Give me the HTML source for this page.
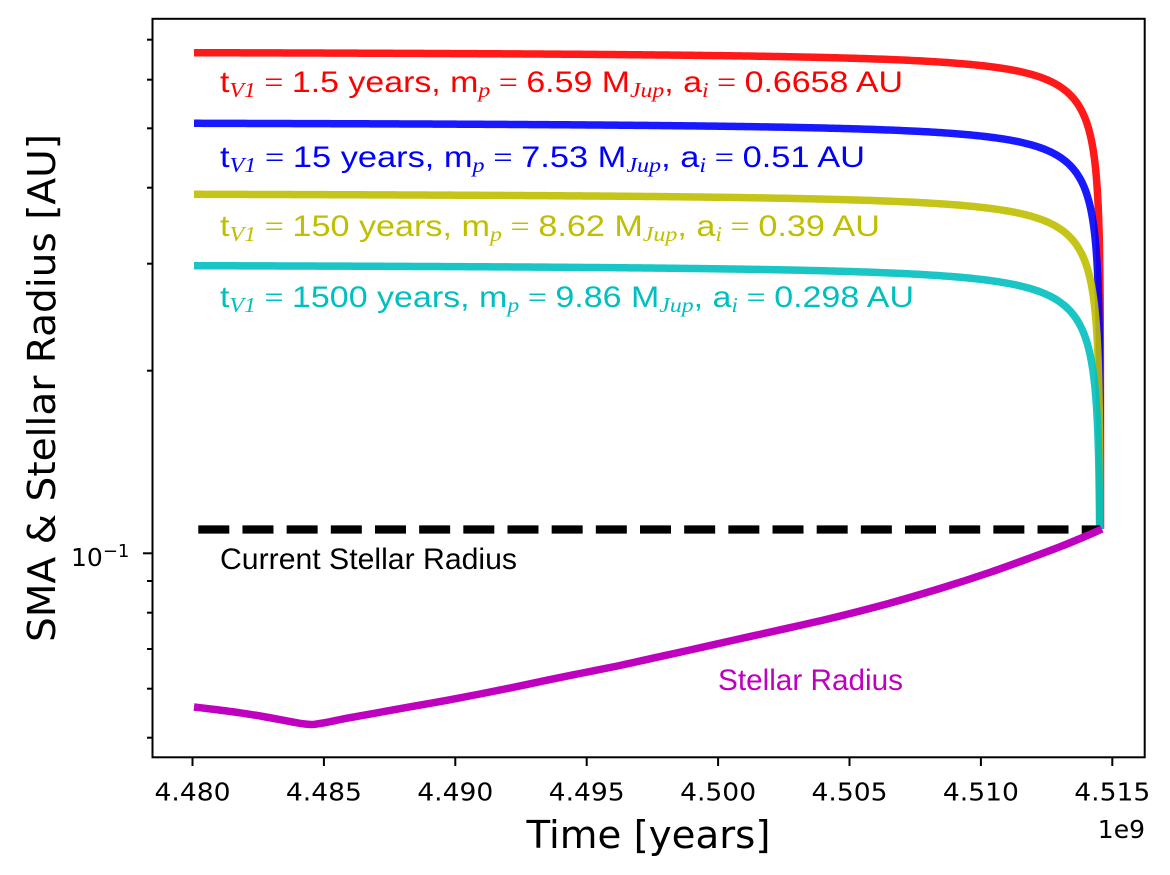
<!DOCTYPE html>
<html>
<head>
<meta charset="utf-8">
<style>
  html,body{margin:0;padding:0;background:#fff;}
  svg{display:block;}
  .tk{font-family:"DejaVu Sans","Liberation Sans",sans-serif;font-size:25px;fill:#000;}
  .lab{font-family:"DejaVu Sans","Liberation Sans",sans-serif;font-size:38px;fill:#000;}
  .ann{font-family:"Liberation Sans","DejaVu Sans",sans-serif;font-size:30px;}
  .m{font-family:"Liberation Serif","DejaVu Serif",serif;font-style:italic;font-size:21px;}
  .eq{font-family:"Liberation Serif","DejaVu Serif",serif;}
</style>
</head>
<body>
<svg width="1170" height="875" viewBox="0 0 1170 875" xmlns="http://www.w3.org/2000/svg">
  <rect x="0" y="0" width="1170" height="875" fill="#fff"/>

  <!-- SMA curves (fallback polylines, replaced by script) -->
  <g fill="none" stroke-width="7.5" stroke-linejoin="round" stroke-linecap="butt" stroke-opacity="0.9">
    <polyline id="cr" data-y0="52.7" data-a="54.6" data-xe="1100.5" stroke="#ff0000" points="194,52.7 500,53.9 700,55.2 800,56.7 900,58.7 950,61.7 1000,67.2 1025,73.7 1040,80.7 1055,88.7 1065,96.7 1075,106.7 1082,116.7 1088,130.7 1092,147.7 1095,166.7 1097,190.7 1098,212.7 1099,252.7 1099.8,302.7 1100.5,529"/>
    <polyline id="cb" data-y0="123.3" data-a="54" data-xe="1100" stroke="#0000ff" points="194,123.3 500,124.5 700,125.8 800,127.3 900,129.3 950,132.3 1000,137.8 1025,144.3 1040,151.3 1055,159.3 1065,167.3 1075,177.3 1082,187.3 1088,201.3 1092,218.3 1095,237.3 1097,261.3 1098,283.3 1099,323.3 1099.5,373.3 1100,529"/>
    <polyline id="cy" data-y0="194.3" data-a="55" data-xe="1100" stroke="#bfbf00" points="194,194.3 500,195.5 700,196.8 800,198.3 900,200.3 950,203.3 1000,208.8 1025,215.3 1040,222.3 1055,230.3 1065,238.3 1075,248.3 1082,258.3 1088,272.3 1092,289.3 1095,308.3 1097,332.3 1098,354.3 1099,394.3 1099.5,444.3 1100,529"/>
    <polyline id="cc" data-y0="265.7" data-a="58" data-xe="1100" stroke="#00bfbf" points="194,265.7 500,266.9 700,268.2 800,269.7 900,271.7 950,274.7 1000,280.2 1025,287.7 1040,295.7 1055,303.7 1065,312.7 1075,322.7 1082,333.7 1088,348.7 1092,365.7 1095,386.7 1097,412.7 1098,437.7 1099,475.7 1099.5,515.7 1100,529"/>
  </g>

  <!-- Current stellar radius dashed line -->
  <line x1="198.3" y1="529.5" x2="1100" y2="529.5" stroke="#000" stroke-width="8.3" stroke-dasharray="31 13.17"/>

  <!-- Stellar radius curve -->
  <polyline id="cm" fill="none" stroke="#bf00bf" stroke-width="7.5" stroke-linejoin="round" points="194,707 215,709.5 240,712.8 263,716.5 290,721.5 305,724 312,724.5 320,723.5 347,718.2 380,712.3 413,706.3 447,700.3 480,694 514,687.2 547,680.2 580,673.5 615,666.5 650,658.8 690,650 730,641 775,631 830,618.5 883,605 940,588.5 991,572 1030,558 1062,546 1085,536.5 1102,529"/>

  <!-- Annotations -->
  <text class="ann" x="220" y="92" fill="#ff0000" textLength="683" lengthAdjust="spacingAndGlyphs">t<tspan class="m" dy="5">V1</tspan><tspan class="eq" dy="-5"> = </tspan>1.5 years, m<tspan class="m" dy="5">p</tspan><tspan class="eq" dy="-5"> = </tspan>6.59 M<tspan class="m" dy="5">Jup</tspan><tspan dy="-5">, a</tspan><tspan class="m" dy="5">i</tspan><tspan class="eq" dy="-5"> = </tspan>0.6658 AU</text>
  <text class="ann" x="220" y="167" fill="#0000ff" textLength="645" lengthAdjust="spacingAndGlyphs">t<tspan class="m" dy="5">V1</tspan><tspan class="eq" dy="-5"> = </tspan>15 years, m<tspan class="m" dy="5">p</tspan><tspan class="eq" dy="-5"> = </tspan>7.53 M<tspan class="m" dy="5">Jup</tspan><tspan dy="-5">, a</tspan><tspan class="m" dy="5">i</tspan><tspan class="eq" dy="-5"> = </tspan>0.51 AU</text>
  <text class="ann" x="220" y="236" fill="#bfbf00" textLength="660" lengthAdjust="spacingAndGlyphs">t<tspan class="m" dy="5">V1</tspan><tspan class="eq" dy="-5"> = </tspan>150 years, m<tspan class="m" dy="5">p</tspan><tspan class="eq" dy="-5"> = </tspan>8.62 M<tspan class="m" dy="5">Jup</tspan><tspan dy="-5">, a</tspan><tspan class="m" dy="5">i</tspan><tspan class="eq" dy="-5"> = </tspan>0.39 AU</text>
  <text class="ann" x="220" y="307" fill="#00bfbf" textLength="694" lengthAdjust="spacingAndGlyphs">t<tspan class="m" dy="5">V1</tspan><tspan class="eq" dy="-5"> = </tspan>1500 years, m<tspan class="m" dy="5">p</tspan><tspan class="eq" dy="-5"> = </tspan>9.86 M<tspan class="m" dy="5">Jup</tspan><tspan dy="-5">, a</tspan><tspan class="m" dy="5">i</tspan><tspan class="eq" dy="-5"> = </tspan>0.298 AU</text>

  <text class="ann" x="220" y="569" fill="#000" textLength="297" lengthAdjust="spacingAndGlyphs">Current Stellar Radius</text>
  <text class="ann" x="718" y="690" fill="#bf00bf" textLength="185" lengthAdjust="spacingAndGlyphs">Stellar Radius</text>

  <!-- Axes frame -->
  <rect x="152.5" y="18.8" width="992.2" height="738.5" fill="none" stroke="#000" stroke-width="2"/>

  <!-- X ticks -->
  <g stroke="#000" stroke-width="2">
    <line x1="192.5" y1="757" x2="192.5" y2="766"/>
    <line x1="323.9" y1="757" x2="323.9" y2="766"/>
    <line x1="455.3" y1="757" x2="455.3" y2="766"/>
    <line x1="586.7" y1="757" x2="586.7" y2="766"/>
    <line x1="718.1" y1="757" x2="718.1" y2="766"/>
    <line x1="849.5" y1="757" x2="849.5" y2="766"/>
    <line x1="980.9" y1="757" x2="980.9" y2="766"/>
    <line x1="1112.3" y1="757" x2="1112.3" y2="766"/>
  </g>
  <g class="tk" text-anchor="middle">
    <text x="192.5" y="800.7" textLength="76" lengthAdjust="spacingAndGlyphs">4.480</text>
    <text x="323.9" y="800.7" textLength="76" lengthAdjust="spacingAndGlyphs">4.485</text>
    <text x="455.3" y="800.7" textLength="76" lengthAdjust="spacingAndGlyphs">4.490</text>
    <text x="586.7" y="800.7" textLength="76" lengthAdjust="spacingAndGlyphs">4.495</text>
    <text x="718.1" y="800.7" textLength="76" lengthAdjust="spacingAndGlyphs">4.500</text>
    <text x="849.5" y="800.7" textLength="76" lengthAdjust="spacingAndGlyphs">4.505</text>
    <text x="980.9" y="800.7" textLength="76" lengthAdjust="spacingAndGlyphs">4.510</text>
    <text x="1112.3" y="800.7" textLength="76" lengthAdjust="spacingAndGlyphs">4.515</text>
  </g>
  <text class="tk" x="1145" y="838" text-anchor="end">1e9</text>

  <!-- Y ticks -->
  <g stroke="#000" stroke-width="2">
    <line x1="143" y1="553.3" x2="153" y2="553.3"/>
    <line x1="147" y1="737.7" x2="153" y2="737.7"/>
    <line x1="147" y1="688.7" x2="153" y2="688.7"/>
    <line x1="147" y1="649" x2="153" y2="649"/>
    <line x1="147" y1="612.7" x2="153" y2="612.7"/>
    <line x1="147" y1="581" x2="153" y2="581"/>
    <line x1="147" y1="370.7" x2="153" y2="370.7"/>
    <line x1="147" y1="263.7" x2="153" y2="263.7"/>
    <line x1="147" y1="187.7" x2="153" y2="187.7"/>
    <line x1="147" y1="128.3" x2="153" y2="128.3"/>
    <line x1="147" y1="79.7" x2="153" y2="79.7"/>
    <line x1="147" y1="39.7" x2="153" y2="39.7"/>
  </g>
  <text class="tk" x="71" y="566">10<tspan font-size="18" dy="-9">−1</tspan></text>

  <!-- Axis labels -->
  <text class="lab" x="648.5" y="848" text-anchor="middle" textLength="244" lengthAdjust="spacingAndGlyphs">Time [years]</text>
  <text class="lab" transform="translate(55,388) rotate(-90)" x="0" y="0" text-anchor="middle" textLength="508" lengthAdjust="spacingAndGlyphs">SMA &amp; Stellar Radius [AU]</text>
</svg>
<script>
(function(){
  var NS="http://www.w3.org/2000/svg";
  function copyAttrs(from,to){
    var attrs=["stroke","stroke-width","stroke-linejoin","fill","stroke-opacity"];
    for(var i=0;i<attrs.length;i++){var v=from.getAttribute(attrs[i]);if(v!==null)to.setAttribute(attrs[i],v);}
  }
  // SMA curves from analytic form
  function sma(id){
    var el=document.getElementById(id);
    if(!el) return;
    var y0=+el.getAttribute("data-y0"), A=+el.getAttribute("data-a"), xe=+el.getAttribute("data-xe");
    var B=38, U=xe-194, yEnd=529;
    var base=Math.log(1+B/U);
    var pts=[];
    function f(u){return y0+A*(Math.log(1+B/u)-base);}
    var u;
    for(u=U;u>30;u-=3){pts.push([xe-u,f(u)]);}
    for(u=30;u>1e-5;u*=0.93){
      var y=f(u);
      if(y>=yEnd){pts.push([xe-u,yEnd]);break;}
      pts.push([xe-u,y]);
    }
    if(pts[pts.length-1][1]<yEnd) pts.push([xe,yEnd]);
    var s="M"+pts.map(function(p){return p[0].toFixed(2)+","+p[1].toFixed(2);}).join(" L");
    var p=document.createElementNS(NS,"path");
    p.setAttribute("d",s);
    copyAttrs(el,p);
    el.parentNode.replaceChild(p,el);
  }
  function smooth(id){
    var el=document.getElementById(id);
    if(!el) return;
    var raw=el.getAttribute("points").trim().split(/\s+/);
    var x=[],y=[],i;
    for(i=0;i<raw.length;i++){var q=raw[i].split(",");x.push(+q[0]);y.push(+q[1]);}
    var n=x.length,d=[],m=[];
    for(i=0;i<n-1;i++){d.push((y[i+1]-y[i])/(x[i+1]-x[i]));}
    m[0]=d[0];m[n-1]=d[n-2];
    for(i=1;i<n-1;i++){
      if(d[i-1]*d[i]<=0){m[i]=0;}
      else{
        var h0=x[i]-x[i-1],h1=x[i+1]-x[i];
        var w1=2*h1+h0,w2=h1+2*h0;
        m[i]=(w1+w2)/(w1/d[i-1]+w2/d[i]);
      }
    }
    var s="M"+x[0]+","+y[0];
    for(i=0;i<n-1;i++){
      var h=x[i+1]-x[i];
      s+=" C"+(x[i]+h/3).toFixed(3)+","+(y[i]+m[i]*h/3).toFixed(3)+" "+(x[i+1]-h/3).toFixed(3)+","+(y[i+1]-m[i+1]*h/3).toFixed(3)+" "+x[i+1]+","+y[i+1];
    }
    var p=document.createElementNS(NS,"path");
    p.setAttribute("d",s);
    copyAttrs(el,p);
    el.parentNode.replaceChild(p,el);
  }
  ["cr","cb","cy","cc"].forEach(sma);
  smooth("cm");
})();
</script>
</body>
</html>
